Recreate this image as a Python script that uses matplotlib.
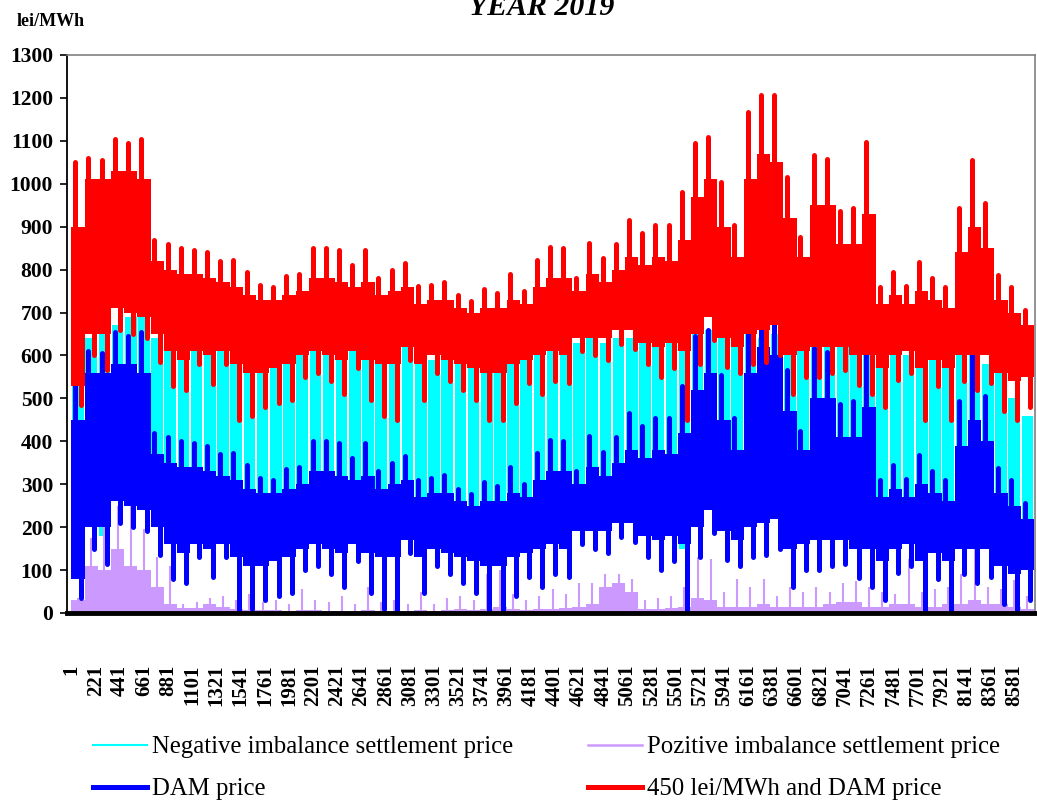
import matplotlib.pyplot as plt
from matplotlib.lines import Line2D
import numpy as np

# readings per 120-hour block of 2019 (lei/MWh)
SEG = 120

# DAM price: extremes (spikes) and the solid everyday band
dam_hi = [600, 610, 605, 655, 645, 655, 420, 410, 400, 395,
          390, 370, 372, 345, 314, 310, 335, 340, 400, 400,
          395, 360, 396, 330, 350, 365, 311, 315, 322, 290,
          277, 305, 296, 340, 300, 372, 403, 400, 330, 412,
          376, 410, 466, 435, 455, 455, 530, 645, 659, 554,
          455, 717, 757, 757, 566, 425, 617, 608, 487, 494,
          648, 309, 345, 312, 368, 331, 309, 494, 605, 505,
          337, 310, 256]
dam_lo = [35, 150, 115, 210, 200, 190, 135, 80, 70, 130,
          84, 130, 0, 10, 30, 40, 46, 100, 110, 90,
          60, 120, 46, 10, 0, 140, 46, 110, 90, 70,
          46, 0, 0, 40, 85, 60, 90, 85, 160, 150,
          140, 176, 165, 130, 100, 120, 0, 130, 186, 123,
          110, 130, 135, 150, 60, 100, 100, 110, 115, 81,
          60, 30, 93, 110, 0, 80, 0, 90, 70, 85,
          20, 0, 30]
dam_core_hi = [450, 560, 560, 580, 580, 560, 370, 350, 340, 340,
               330, 320, 310, 290, 280, 280, 290, 300, 330, 330,
               320, 310, 320, 290, 300, 310, 270, 280, 280, 260,
               250, 260, 260, 280, 270, 310, 330, 330, 300, 340,
               320, 350, 380, 360, 380, 370, 420, 520, 560, 450,
               380, 560, 620, 600, 470, 380, 500, 500, 410, 410,
               480, 270, 290, 270, 300, 280, 260, 390, 450, 400,
               280, 250, 220]
dam_core_lo = [80, 200, 200, 260, 250, 240, 200, 160, 140, 160,
               150, 160, 130, 110, 110, 120, 130, 150, 160, 150,
               140, 160, 140, 130, 130, 170, 130, 150, 140, 130,
               120, 110, 110, 130, 140, 150, 160, 150, 190, 190,
               190, 210, 210, 180, 170, 180, 160, 200, 240, 190,
               170, 200, 210, 220, 150, 160, 170, 170, 170, 150,
               150, 120, 150, 160, 120, 140, 120, 150, 150, 150,
               110, 90, 100]
neg_hi = [600, 640, 660, 670, 690, 706, 640, 630, 630, 620,
          620, 610, 620, 610, 600, 610, 620, 630, 620, 630,
          620, 610, 600, 610, 600, 620, 600, 590, 600, 610,
          600, 590, 600, 610, 620, 620, 630, 620, 630, 640,
          630, 640, 640, 630, 640, 630, 650, 660, 660, 650,
          640, 650, 640, 650, 640, 630, 640, 630, 620, 610,
          620, 600, 610, 600, 600, 610, 600, 600, 620, 580,
          560, 500, 460]
neg_lo = [250, 220, 180, 260, 260, 240, 200, 180, 170, 180,
          180, 180, 150, 140, 150, 160, 170, 200, 200, 190,
          180, 200, 160, 150, 150, 200, 150, 190, 180, 170,
          150, 120, 120, 150, 170, 180, 190, 190, 220, 210,
          200, 220, 220, 200, 200, 210, 150, 220, 240, 200,
          190, 220, 230, 230, 180, 190, 200, 200, 190, 180,
          180, 150, 170, 170, 140, 160, 140, 170, 170, 170,
          130, 120, 130]
poz_base = [30, 110, 100, 150, 110, 100, 60, 20, 12, 12,
            20, 15, 10, 8, 8, 8, 5, 8, 8, 5,
            5, 5, 8, 5, 5, 5, 8, 5, 8, 10,
            8, 10, 15, 10, 8, 10, 10, 12, 15, 20,
            60, 70, 50, 10, 10, 12, 15, 35, 30, 15,
            15, 15, 20, 15, 15, 15, 15, 20, 25, 25,
            15, 15, 20, 20, 15, 15, 20, 20, 30, 20,
            20, 15, 10]
poz_peak = [35, 175, 220, 250, 255, 195, 130, 110, 20, 25,
            35, 40, 30, 45, 25, 30, 20, 55, 30, 25,
            40, 20, 60, 25, 30, 20, 50, 20, 35, 40,
            30, 90, 100, 45, 30, 40, 55, 45, 70, 70,
            90, 90, 80, 30, 35, 40, 60, 130, 125, 50,
            80, 60, 80, 40, 60, 50, 60, 50, 70, 75,
            60, 50, 45, 125, 50, 55, 60, 90, 170, 60,
            55, 77, 40]
tick_hours = list(range(1, 8760, 220))
markup = 450

plt.rcParams['font.family'] = ['Liberation Serif', 'DejaVu Serif']

dam_hi = np.array(dam_hi)
dam_lo = np.array(dam_lo)
dam_core_hi = np.array(dam_core_hi)
dam_core_lo = np.array(dam_core_lo)
neg_hi = np.array(neg_hi)
neg_lo = np.array(neg_lo)
hours = np.arange(len(dam_hi)) * SEG
edges = np.append(hours, len(dam_hi) * SEG)


def ext(a):
    return np.append(a, a[-1])


fig = plt.figure(figsize=(10.37, 8.02), dpi=100)
ax = fig.add_axes([67 / 1037, 1 - 613 / 802, (1035 - 67) / 1037, (613 - 55) / 802])

ax.bar(hours + SEG / 2, neg_hi - neg_lo, bottom=neg_lo, width=SEG * 0.88,
       color='#00ffff', lw=0, zorder=1)
ax.bar(hours + SEG / 2, poz_base, width=SEG, color='#cc99ff', lw=0, zorder=2)
ax.vlines(hours + SEG / 2, 0, poz_peak, color='#cc99ff', lw=1.5, zorder=2)

for shift, col, z in [(0, '#0000ff', 3), (markup, '#ff0000', 4)]:
    ax.fill_between(edges, ext(dam_core_lo) + shift, ext(dam_core_hi) + shift,
                    step='post', color=col, lw=0, zorder=z)
    ax.vlines(hours + 35, dam_core_hi + shift, dam_hi + shift, color=col,
              lw=3.6, capstyle='round', zorder=z)
    ax.vlines(hours + 85, dam_lo + shift, dam_core_lo + shift, color=col,
              lw=3.6, capstyle='round', zorder=z)

ax.axhline(0, color='black', lw=3.5, zorder=5, clip_on=False)

ax.set_xlim(-40, 8770)
ax.set_ylim(0, 1300)
ax.set_xticks(tick_hours)
ax.set_xticklabels([str(h) for h in tick_hours], rotation=90, fontweight='bold')
ax.set_yticks(range(0, 1301, 100))
ax.set_yticklabels([str(v) for v in range(0, 1301, 100)], fontweight='bold')
ax.tick_params(axis='x', length=0, pad=37, labelsize=15)
ax.tick_params(axis='y', direction='out', length=5, width=1.2, pad=5, labelsize=15.5)

ax.spines['left'].set_linewidth(1.3)
ax.spines['bottom'].set_visible(False)
for s in ['top', 'right']:
    ax.spines[s].set_color('#808080')
    ax.spines[s].set_linewidth(1.2)

fig.text(542 / 1037, 1 - 15 / 802, 'YEAR 2019', ha='center', va='baseline',
         fontsize=21.5, fontweight='bold', fontstyle='italic')
fig.text(17 / 1037, 1 - 22 / 802, 'lei/MWh', ha='left', va='center',
         fontsize=13, fontweight='bold')

handles = [Line2D([], [], color='#00ffff', lw=1.5),
           Line2D([], [], color='#0000ff', lw=3.6),
           Line2D([], [], color='#cc99ff', lw=1.8),
           Line2D([], [], color='#ff0000', lw=3.6)]
labels = ['Negative imbalance settlement price', 'DAM price',
          'Pozitive imbalance settlement price', '450 lei/MWh and DAM price']
fig.legend(handles, labels, ncol=2, loc='upper left',
           bbox_to_anchor=(93 / 1037, 1 - 736 / 802), frameon=False,
           fontsize=17.8, handlelength=2.2, handletextpad=0.2,
           columnspacing=3.0, labelspacing=0.8, borderpad=0, borderaxespad=0)

fig.savefig('out.png', dpi=100)
